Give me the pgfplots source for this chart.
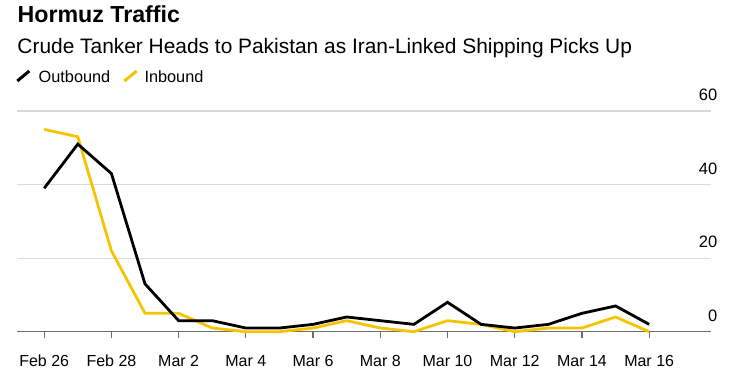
\documentclass[border=0pt]{standalone}
\usepackage{pgfplots}
\pgfplotsset{compat=1.18}
\usepackage{fontspec}
\setmainfont{Liberation Sans}
\definecolor{ylw}{RGB}{245,196,0}
\definecolor{gridc}{RGB}{218,218,218}
\definecolor{basec}{RGB}{110,110,110}
\begin{document}
\begin{tikzpicture}[x=1bp,y=1bp]
\path[use as bounding box] (0,0) rectangle (738,-381);
\node[anchor=base west, inner sep=0pt, font=\fontsize{23.2bp}{27bp}\selectfont\bfseries] at (17.4,-22.3) {Hormuz Traffic};
\node[anchor=base west, inner sep=0pt, font=\fontsize{20.9bp}{24bp}\selectfont] at (17.3,-53.3) {Crude Tanker Heads to Pakistan as Iran-Linked Shipping Picks Up};
\draw[black, line width=3bp] (17.3,-81) -- (29.3,-71);
\node[anchor=base west, inner sep=0pt, font=\fontsize{16.3bp}{19bp}\selectfont] at (38.5,-82) {Outbound};
\draw[ylw, line width=3bp] (124.3,-81) -- (136.7,-71);
\node[anchor=base west, inner sep=0pt, font=\fontsize{16.3bp}{19bp}\selectfont] at (144.3,-82) {Inbound};
\begin{axis}[
  at={(17.3bp,-331.7bp)}, anchor=south west,
  scale only axis, width=693.7bp, height=220.7bp,
  xmin=-0.8, xmax=19.84, ymin=0, ymax=60,
  axis x line*=bottom, axis y line*=right,
  y axis line style={draw=none},
  x axis line style={basec, line width=1.5bp},
  tick align=outside, major tick length=6.5bp,
  xtick style={basec, line width=1.2bp},
  ytick style={draw=none},
  xtick={0,2,...,18},
  xticklabels={Feb 26,Feb 28,Mar 2,Mar 4,Mar 6,Mar 8,Mar 10,Mar 12,Mar 14,Mar 16},
  ytick={0,20,40,60},
  ymajorgrids, grid style={gridc, line width=1.2bp},
  /pgf/number format/assume math mode=true,
  xticklabel style={font=\fontsize{16bp}{19bp}\selectfont, anchor=base, inner sep=0pt, yshift=-28.3bp},
  yticklabel style={font=\fontsize{16.5bp}{19bp}\selectfont, anchor=base east, inner sep=0pt, yshift=10.5bp},
  clip=false,
]
\addplot[ylw, line width=2.8bp] coordinates {
(0,55) (1,53) (2,22) (3,5) (4,5) (5,1) (6,0) (7,0) (8,1) (9,3) (10,1) (11,0) (12,3) (13,2) (14,0) (15,1) (16,1) (17,4) (18,0)};
\addplot[black, line width=2.8bp] coordinates {
(0,39) (1,51) (2,43) (3,13) (4,3) (5,3) (6,1) (7,1) (8,2) (9,4) (10,3) (11,2) (12,8) (13,2) (14,1) (15,2) (16,5) (17,7) (18,2)};
\end{axis}
\end{tikzpicture}
\end{document}
